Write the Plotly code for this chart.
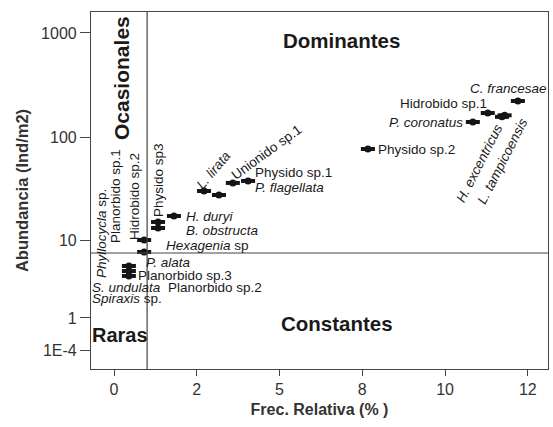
import plotly.graph_objects as go

# ---- data ----
freq = [0.45, 0.45, 0.45, 0.91, 0.91, 1.33, 1.33, 1.81, 2.72, 3.17, 3.59, 4.05,
        7.67, 10.84, 11.29, 11.72, 11.80, 12.20]
abund = [3.53, 3.12, 2.77, 6.62, 4.95, 10.25, 8.86, 11.85, 21.7, 19.7, 26.4, 27.7,
         60.1, 115.7, 143.9, 131.0, 136.0, 192.4]

x_tick_vals = [0, 2.5, 5, 7.5, 10, 12.5]
x_tick_text = ["0", "2", "5", "8", "10", "12"]
y_tick_vals = [1000, 80, 6.6, 1, 0.46]
y_tick_text = ["1000", "100", "10", "1", "1E-4"]

x_split = 1.0
y_split = 4.83

W, H = 553, 427
L, R, T, B = 91, 5, 12, 58

FONT = "Liberation Sans, Arial, sans-serif"
MK = "#151515"

fig = go.Figure()
# ellipse-like markers: a circle plus a short horizontal bar
fig.add_trace(go.Scatter(x=freq, y=abund, mode="markers",
                         marker=dict(symbol="line-ew", size=10,
                                     line=dict(width=4, color=MK)),
                         hoverinfo="skip", showlegend=False))
fig.add_trace(go.Scatter(x=freq, y=abund, mode="markers",
                         marker=dict(symbol="circle", size=7, color=MK,
                                     line=dict(width=0)),
                         showlegend=False))

fig.add_shape(type="line", xref="x", yref="paper", x0=x_split, x1=x_split, y0=0, y1=1,
              line=dict(color="#444", width=1.2))
fig.add_shape(type="line", xref="paper", yref="y", x0=0, x1=1, y0=y_split, y1=y_split,
              line=dict(color="#444", width=1.2))

pw, ph = W - L - R, H - T - B


def P(px, py):
    return (px - L) / pw, (H - B - py) / ph


FS = 13.5
labels = [
    ("<b>Dominantes</b>", 341, 40, "center", 0, 20.5),
    ("<b>Constantes</b>", 337, 323, "center", 0, 20.5),
    ("<b>Ocasionales</b>", 121, 78, "center", -90, 21),
    ("<b>Raras</b>", 90, 335, "left", 0, 20),
    ("<i>Phyllocycla</i> sp.", 101, 234, "center", -90, FS),
    ("Planorbido sp.1", 116, 196, "center", -90, FS),
    ("Hidrobido sp.2", 135, 197, "center", -90, FS),
    ("Physido sp3", 158, 180, "center", -90, FS),
    ("<i>H. duryi</i>", 184, 216, "left", 0, FS),
    ("<i>B. obstructa</i>", 184, 230, "left", 0, FS),
    ("<i>Hexagenia</i> sp", 164, 245, "left", 0, FS),
    ("<i>P. alata</i>", 144, 262, "left", 0, FS),
    ("Planorbido sp.3", 136, 275, "left", 0, FS),
    ("<i>S. undulata</i>", 90, 287, "left", 0, FS),
    ("Planorbido sp.2", 166, 287, "left", 0, FS),
    ("<i>Spiraxis</i> sp.", 90, 298, "left", 0, FS),
    ("<i>L. lirata</i>", 213, 170, "center", -50, FS),
    ("Unionido sp.1", 266, 152, "center", -36, FS),
    ("Physido sp.1", 253, 173, "left", 0, FS),
    ("<i>P. flagellata</i>", 253, 187, "left", 0, FS),
    ("Physido sp.2", 376, 149, "left", 0, FS),
    ("<i>P. coronatus</i>", 465, 122, "right", 0, FS),
    ("Hidrobido sp.1", 489, 104, "right", 0, FS),
    ("<i>C. francesae</i>", 549, 88, "right", 0, FS),
    ("<i>H. excentricus</i>", 479, 163, "center", -63, FS),
    ("<i>L. tampicoensis</i>", 502, 161, "center", -63, FS),
]
for text, px, py, xa, ang, sz in labels:
    xp, yp = P(px, py)
    fig.add_annotation(text=text, x=xp, y=yp, xref="paper", yref="paper",
                       xanchor=xa, yanchor="middle", textangle=ang, showarrow=False,
                       font=dict(family=FONT, size=sz, color="#1a1a1a"))

fig.update_layout(
    width=W, height=H, margin=dict(l=L, r=R, t=T, b=B),
    paper_bgcolor="white", plot_bgcolor="white",
    font=dict(family=FONT, color="#333"),
    showlegend=False,
)
fig.update_xaxes(range=[-0.695, 13.11], tickvals=x_tick_vals, ticktext=x_tick_text,
                 ticks="outside", ticklen=6, tickcolor="#444", showgrid=False,
                 zeroline=False, showline=True, linecolor="#444", linewidth=1.2,
                 mirror=True, tickfont=dict(size=16, color="#333"),
                 title=dict(text="<b>Frec. Relativa (% )</b>", font=dict(size=16, color="#333"),
                            standoff=6))
fig.update_yaxes(type="log", range=[-0.537, 3.221], tickvals=y_tick_vals,
                 ticktext=y_tick_text, ticks="outside", ticklen=10, tickcolor="#444",
                 showgrid=False, zeroline=False, showline=True, linecolor="#444",
                 linewidth=1.2, mirror=True, tickfont=dict(size=16, color="#333"),
                 title=dict(text="<b>Abundancia (Ind/m2)</b>", font=dict(size=16.5, color="#333"),
                            standoff=8))

fig.write_html("out.html")
